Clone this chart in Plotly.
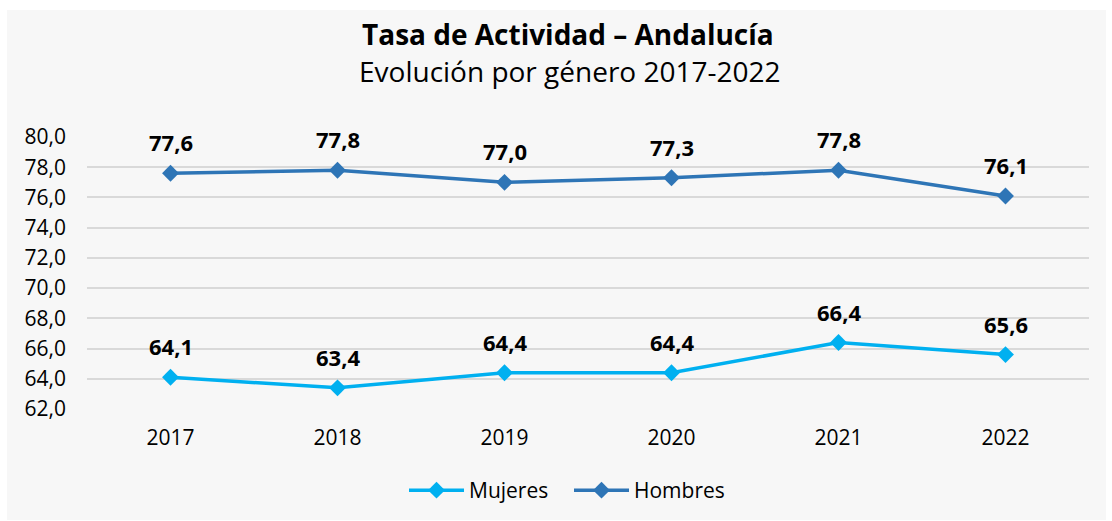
import plotly.graph_objects as go

years = ["2017", "2018", "2019", "2020", "2021", "2022"]
mujeres = [64.1, 63.4, 64.4, 64.4, 66.4, 65.6]
hombres = [77.6, 77.8, 77.0, 77.3, 77.8, 76.1]
y_ticks = [62, 64, 66, 68, 70, 72, 74, 76, 78, 80]

W, H = 1112, 521
ml, mr, mt, mb = 87, 23, 137, 112
pw, ph = W - ml - mr, H - mt - mb

font = "Open Sans, Noto Sans, sans-serif"
c_muj = "#00b0f0"
c_hom = "#2e75b6"


def py(pix):
    # pixel row from top -> paper y
    return (H - mb - pix) / ph


def px(pix):
    return (pix - ml) / pw


fig = go.Figure()
for name, vals, col in [("Mujeres", mujeres, c_muj), ("Hombres", hombres, c_hom)]:
    fig.add_trace(go.Scatter(
        x=years, y=vals, name=name, mode="lines+markers",
        line=dict(color=col, width=3.5),
        marker=dict(symbol="diamond", size=13, color=col),
    ))
    for i, v in enumerate(vals):
        fig.add_annotation(x=i, y=v, text="<b>%s</b>" % ("%.1f" % v).replace(".", ","),
                           showarrow=False, yshift=31,
                           font=dict(family=font, size=22, color="#000000"))

# titles
fig.add_annotation(xref="paper", yref="paper", x=px(568), y=py(34), showarrow=False,
                   xanchor="center", yanchor="middle",
                   text="<b>Tasa de Actividad – Andalucía</b>",
                   font=dict(family=font, size=28, color="#000000"))
fig.add_annotation(xref="paper", yref="paper", x=px(570), y=py(71), showarrow=False,
                   xanchor="center", yanchor="middle",
                   text="Evolución por género 2017-2022",
                   font=dict(family=font, size=28, color="#000000"))

# grey panel behind everything (paper coordinates from pixels)
fig.add_shape(type="rect", xref="paper", yref="paper", layer="below",
              x0=px(7), x1=px(1106), y0=py(520), y1=py(10),
              fillcolor="#f7f7f7", line=dict(width=0))

fig.update_layout(
    width=W, height=H,
    margin=dict(l=ml, r=mr, t=mt, b=mb, autoexpand=False),
    paper_bgcolor="white", plot_bgcolor="rgba(0,0,0,0)",
    separators=",.",
    font=dict(family=font, color="#000000"),
    showlegend=True,
    legend=dict(orientation="h", x=px(569), xanchor="center", y=py(470), yanchor="top",
                font=dict(size=21, family=font), bgcolor="rgba(0,0,0,0)",
                itemwidth=55, entrywidth=95, entrywidthmode="pixels"),
    xaxis=dict(type="category", range=[-0.5, 5.5], showgrid=False, zeroline=False,
               showline=False, ticks="", ticklabelstandoff=14,
               tickfont=dict(size=21, family=font)),
    yaxis=dict(range=[62, 80], tickvals=y_ticks, tickformat=".1f",
               showgrid=True, gridcolor="#d9d9d9", gridwidth=2, zeroline=False,
               showline=False, ticks="", ticklabelstandoff=20,
               tickfont=dict(size=21, family=font)),
)

fig.write_html("out.html", config={"displayModeBar": False},
               post_script="document.body.style.margin='0';")
